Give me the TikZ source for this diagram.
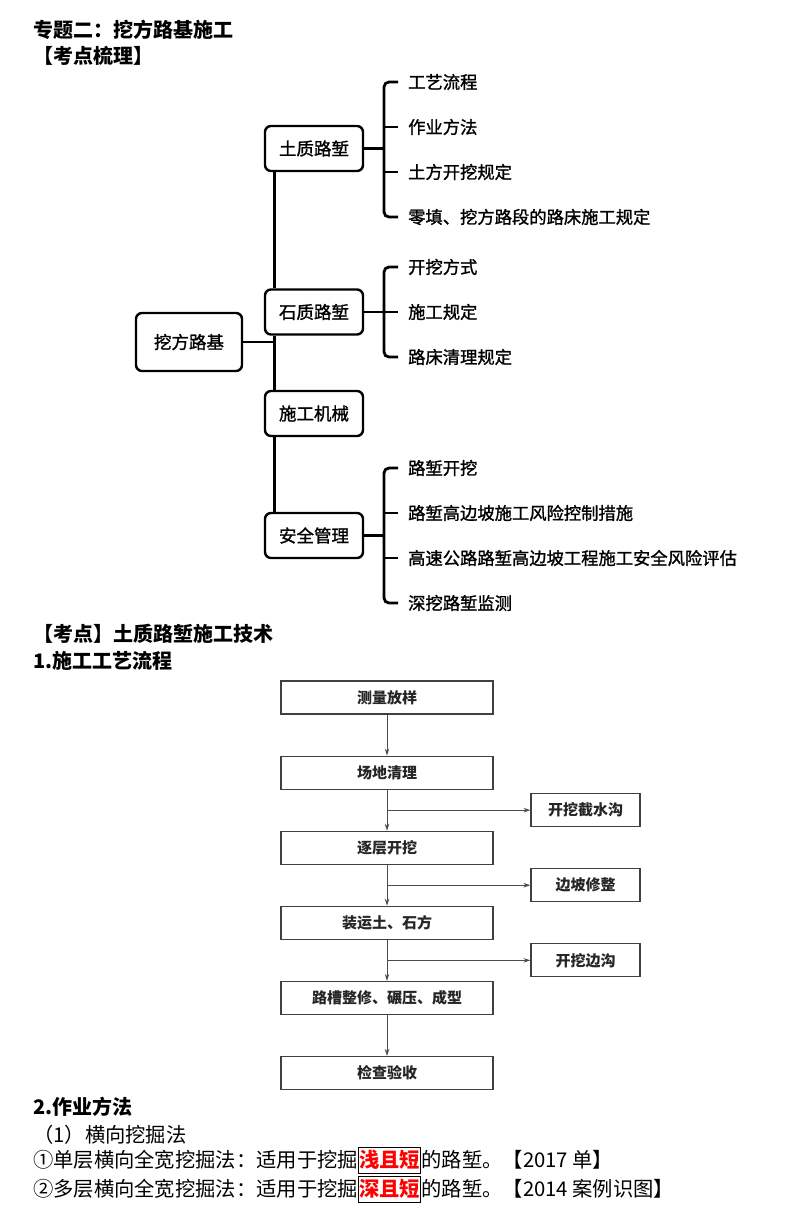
\documentclass[tikz,border=0pt]{standalone}
\usepackage{fontspec}
\setmainfont{Noto Sans CJK SC}
\newfontfamily\mapfont[FakeBold=1.3]{Noto Sans CJK SC}
\usepackage{tikz}
\usetikzlibrary{arrows.meta, positioning, calc}

\begin{document}
\begin{tikzpicture}[
		x=1pt, y=-1pt,
		%--- Text Styles ---------------------------------------------------
		heading/.style={
			anchor=west,
			inner sep=0pt,
			font=\fontsize{20}{24}\selectfont\bfseries
		},
		bodytext/.style={
			anchor=west,
			inner sep=0pt,
			font=\fontsize{20.3}{24}\selectfont
		},
		keyword/.style={
			rectangle,
			draw=black,
			line width=1pt,
			inner sep=0.6pt,
			minimum height=26pt,
			text=red,
			font=\fontsize{20.3}{24}\selectfont\bfseries
		},
		%--- Mind Map Styles -----------------------------------------------
		rootbox/.style={
			rectangle,
			rounded corners=6pt,
			draw=black,
			line width=2.4pt,
			minimum width=106pt,
			minimum height=58pt,
			font=\mapfont\fontsize{17.5}{20}\selectfont
		},
		topicbox/.style={
			rootbox,
			minimum width=98pt,
			minimum height=45pt
		},
		leaf/.style={
			anchor=west,
			inner sep=0pt,
			font=\mapfont\fontsize{17.3}{20}\selectfont
		},
		tree/.style={
			line width=2.8pt,
			draw=black
		},
		bracket/.style={
			tree,
			rounded corners=5pt
		},
		%--- Flow Chart Styles ---------------------------------------------
		stepbox/.style={
			rectangle,
			draw=black!75,
			line width=1.1pt,
			minimum width=212pt,
			minimum height=33pt,
			text=black!85,
			font=\fontsize{15}{18}\selectfont\bfseries
		},
		sidebox/.style={
			stepbox,
			minimum width=109pt
		},
		flowarrow/.style={
			-{Stealth[length=7pt,width=4.5pt]},
			line width=1pt,
			draw=black!70
		}
		]
		
		\fill[white] (0,0) rectangle (806,1211);
		\useasboundingbox (0,0) rectangle (806,1211);
		
		%--- Page Headings -----------------------------------------------------
		
		\node[heading] (title)   at (33,30) {专题二：挖方路基施工};
		\node[heading] (outline) at (33,56) {【考点梳理】};
		
		%--- Mind Map Boxes ----------------------------------------------------
		
		\node[rootbox]  (root)    at (189,342)   {挖方路基};
		\node[topicbox] (soil)    at (314,148.5) {土质路堑};
		\node[topicbox] (rock)    at (314,312)   {石质路堑};
		\node[topicbox] (machine) at (314,413.5) {施工机械};
		\node[topicbox] (safety)  at (314,535.5) {安全管理};
		
		%--- Mind Map Leaves ---------------------------------------------------
		
		\node[leaf] (soil1) at (408,82)  {工艺流程};
		\node[leaf] (soil2) at (408,127) {作业方法};
		\node[leaf] (soil3) at (408,172) {土方开挖规定};
		\node[leaf] (soil4) at (408,217) {零填、挖方路段的路床施工规定};
		
		\node[leaf] (rock1) at (408,267) {开挖方式};
		\node[leaf] (rock2) at (408,312) {施工规定};
		\node[leaf] (rock3) at (408,357) {路床清理规定};
		
		\node[leaf] (safety1) at (408,468) {路堑开挖};
		\node[leaf] (safety2) at (408,513) {路堑高边坡施工风险控制措施};
		\node[leaf] (safety3) at (408,558) {高速公路路堑高边坡工程施工安全风险评估};
		\node[leaf] (safety4) at (408,603) {深挖路堑监测};
		
		%--- Trunk Lines -------------------------------------------------------
		
		\coordinate (trunk) at ([xshift=11pt]rock.south west);
		
		\draw[tree] ([xshift=11pt]soil.south west)    -- ([xshift=11pt]rock.north west);
		\draw[tree] ([xshift=11pt]rock.south west)    -- ([xshift=11pt]machine.north west);
		\draw[tree] ([xshift=11pt]machine.south west) -- ([xshift=11pt]safety.north west);
		\draw[tree] (root.east) -- (root.east -| trunk);
		
		%--- Leaf Brackets -----------------------------------------------------
		
		\coordinate (soilbar)   at ([xshift=-24pt]soil1.west);
		\coordinate (rockbar)   at ([xshift=-24pt]rock1.west);
		\coordinate (safetybar) at ([xshift=-24pt]safety1.west);
		
		\draw[bracket] ([xshift=-10pt]soil1.west) -- (soilbar)
		-- ([xshift=-24pt]soil4.west) -- ([xshift=-10pt]soil4.west);
		\draw[tree] ([xshift=-24pt]soil2.west) -- ([xshift=-10pt]soil2.west);
		\draw[tree] ([xshift=-24pt]soil3.west) -- ([xshift=-10pt]soil3.west);
		\draw[tree] (soil.east) -- (soil.east -| soilbar);
		
		\draw[bracket] ([xshift=-10pt]rock1.west) -- (rockbar)
		-- ([xshift=-24pt]rock3.west) -- ([xshift=-10pt]rock3.west);
		\draw[tree] ([xshift=-24pt]rock2.west) -- ([xshift=-10pt]rock2.west);
		\draw[tree] (rock.east) -- (rock.east -| rockbar);
		
		\draw[bracket] ([xshift=-10pt]safety1.west) -- (safetybar)
		-- ([xshift=-24pt]safety4.west) -- ([xshift=-10pt]safety4.west);
		\draw[tree] ([xshift=-24pt]safety2.west) -- ([xshift=-10pt]safety2.west);
		\draw[tree] ([xshift=-24pt]safety3.west) -- ([xshift=-10pt]safety3.west);
		\draw[tree] (safety.east) -- (safety.east -| safetybar);
		
		%--- Section Headings --------------------------------------------------
		
		\node[heading] (point) at (33,634) {【考点】土质路堑施工技术};
		\node[heading] (step1) at (33,661) {1.施工工艺流程};
		
		%--- Flow Chart Main Column (top to bottom) ----------------------------
		
		\node[stepbox] (survey) at (387,697.5) {测量放样};
		\node[stepbox, below=41pt of survey] (clear)  {场地清理};
		\node[stepbox, below=41pt of clear]  (dig)    {逐层开挖};
		\node[stepbox, below=41pt of dig]    (haul)   {装运土、石方};
		\node[stepbox, below=41pt of haul]   (shape)  {路槽整修、碾压、成型};
		\node[stepbox, below=41pt of shape]  (accept) {检查验收};
		
		%--- Flow Chart Side Steps ---------------------------------------------
		
		\node[sidebox] (trench) at ($(clear.south)!.5!(dig.north) + (198.5,0)$) {开挖截水沟};
		\node[sidebox] (slope)  at ($(dig.south)!.5!(haul.north) + (198.5,0)$)  {边坡修整};
		\node[sidebox] (ditch)  at ($(haul.south)!.5!(shape.north) + (198.5,0)$) {开挖边沟};
		
		%--- Flow Chart Arrows -------------------------------------------------
		
		\draw[flowarrow] (survey) -- (clear);
		\draw[flowarrow] (clear)  -- (dig);
		\draw[flowarrow] (dig)    -- (haul);
		\draw[flowarrow] (haul)   -- (shape);
		\draw[flowarrow] (shape)  -- (accept);
		
		\draw[flowarrow] (clear.south |- trench.west) -- (trench.west);
		\draw[flowarrow] (dig.south   |- slope.west)  -- (slope.west);
		\draw[flowarrow] (haul.south  |- ditch.west)  -- (ditch.west);
		
		%--- Working Methods Text ----------------------------------------------
		
		\node[heading]  (step2)  at (33,1107) {2.作业方法};
		\node[bodytext] (method) at (33,1135) {（1）横向挖掘法};
		
		\node[bodytext] (single) at (33,1160) {①单层横向全宽挖掘法：适用于挖掘};
		\node[keyword, right=0pt of single] (shallow) {浅且短};
		\node[bodytext, right=0pt of shallow] (singleend) {的路堑。【2017 单】};
		
		\node[bodytext] (multi) at (33,1189) {②多层横向全宽挖掘法：适用于挖掘};
		\node[keyword, right=0pt of multi] (deep) {深且短};
		\node[bodytext, right=0pt of deep] (multiend) {的路堑。【2014 案例识图】};
		
	\end{tikzpicture}
\end{document}
